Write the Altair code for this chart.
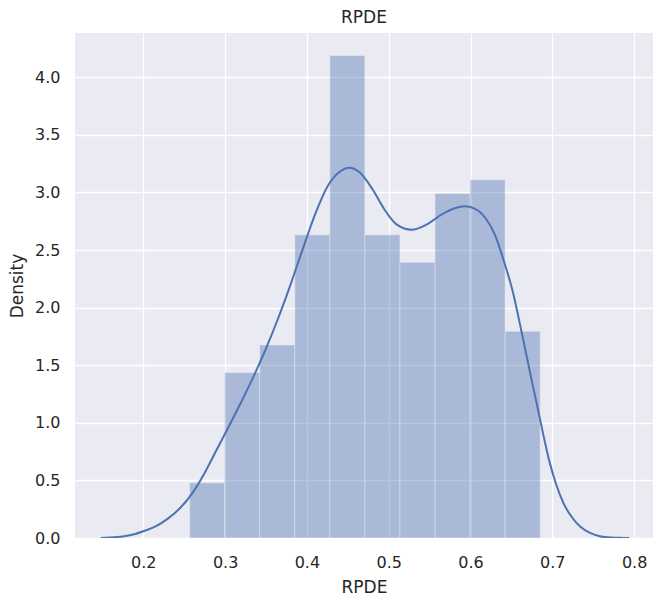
import altair as alt
import pandas as pd

# Histogram bins (edges) and density heights for RPDE
bin_edges = [0.2566, 0.2994, 0.3423, 0.3852, 0.4280, 0.4709,
             0.5137, 0.5566, 0.5995, 0.6423, 0.6852]
bin_density = [0.479, 1.436, 1.675, 2.632, 4.188,
               2.632, 2.393, 2.991, 3.111, 1.795]

# Kernel density estimate curve
kde_x = [0.148, 0.160, 0.175, 0.190, 0.200, 0.215, 0.230, 0.245,
         0.260, 0.275, 0.290, 0.305, 0.320, 0.335, 0.350, 0.365,
         0.380, 0.395, 0.410, 0.425, 0.440, 0.452, 0.465, 0.480,
         0.495, 0.510, 0.528, 0.546, 0.565, 0.580, 0.593, 0.605,
         0.618, 0.630, 0.641, 0.652, 0.663, 0.673, 0.685, 0.697,
         0.705, 0.7135, 0.724, 0.734, 0.746, 0.758, 0.772, 0.787, 0.794]
kde_y = [0.0, 0.004, 0.014, 0.035, 0.059, 0.100, 0.168, 0.260,
         0.390, 0.565, 0.770, 0.975, 1.185, 1.405, 1.645, 1.910,
         2.200, 2.510, 2.810, 3.050, 3.180, 3.215, 3.170, 3.030,
         2.850, 2.720, 2.676, 2.720, 2.810, 2.860, 2.880, 2.860,
         2.780, 2.630, 2.400, 2.130, 1.770, 1.430, 1.030, 0.650,
         0.460, 0.305, 0.180, 0.100, 0.045, 0.016, 0.004, 0.001, 0.0]

x_ticks = [0.2, 0.3, 0.4, 0.5, 0.6, 0.7, 0.8]
y_ticks = [0.0, 0.5, 1.0, 1.5, 2.0, 2.5, 3.0, 3.5, 4.0]

bars = pd.DataFrame({
    "lo": bin_edges[:-1],
    "hi": bin_edges[1:],
    "density": bin_density,
})
kde = pd.DataFrame({"x": kde_x, "y": kde_y})

FONT = "DejaVu Sans"
TEXT = "#262626"
BLUE = "#4C72B0"

x_scale = alt.Scale(domain=[0.1165, 0.8231], nice=False, zero=False)
y_scale = alt.Scale(domain=[0, 4.384], nice=False)

x_axis = alt.Axis(values=x_ticks, format=".1f", title="RPDE",
                  labelPadding=16, titlePadding=9)
y_axis = alt.Axis(values=y_ticks, format=".1f", title="Density",
                  labelPadding=15, titlePadding=8)

hist = alt.Chart(bars).mark_bar(
    color=BLUE, opacity=0.4, stroke="white", strokeOpacity=0.45, strokeWidth=1
).encode(
    x=alt.X("lo:Q", scale=x_scale, axis=x_axis),
    x2="hi:Q",
    y=alt.Y("density:Q", scale=y_scale, axis=y_axis),
    y2=alt.datum(0),
)

line = alt.Chart(kde).mark_line(
    color=BLUE, strokeWidth=2, interpolate="monotone", clip=True
).encode(
    x=alt.X("x:Q", scale=x_scale),
    y=alt.Y("y:Q", scale=y_scale),
)

chart = alt.layer(hist, line).properties(
    width=578,
    height=505,
    title=alt.TitleParams("RPDE", font=FONT, fontSize=17, fontWeight="normal",
                          color=TEXT, offset=6, anchor="middle"),
    autosize=alt.AutoSizeParams(type="none"),
    padding={"left": 75, "top": 33, "right": 0, "bottom": 60},
).configure_view(
    fill="#EAEAF2", stroke=None
).configure_axis(
    domain=False, ticks=False, grid=True, gridColor="white", gridWidth=1.3,
    labelFont=FONT, labelFontSize=16, labelColor=TEXT,
    titleFont=FONT, titleFontSize=17, titleFontWeight="normal", titleColor=TEXT,
)

chart.save("out.html", embed_options={"renderer": "svg", "actions": False})
